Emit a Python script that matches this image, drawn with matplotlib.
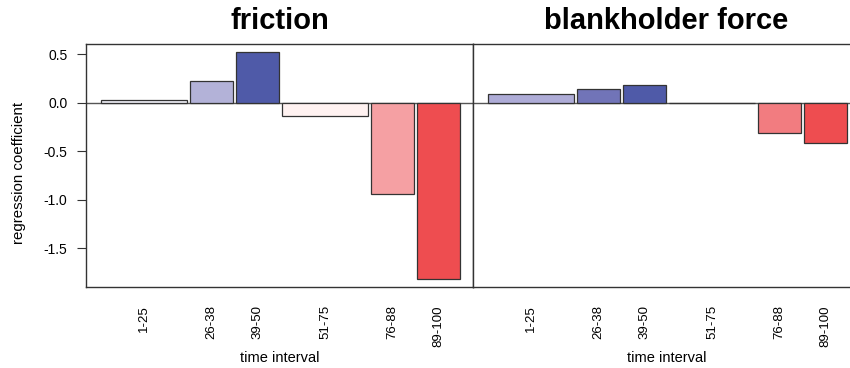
import matplotlib
matplotlib.use("Agg")
import matplotlib.pyplot as plt
import numpy as np

# time intervals and their relative bar widths
intervals = ["1-25", "26-38", "39-50", "51-75", "76-88", "89-100"]
widths = [2, 1, 1, 2, 1, 1]

# regression coefficients per interval
friction = [0.028, 0.22, 0.52, -0.134, -0.94, -1.815]
blankholder = [0.09, 0.14, 0.18, 0.0, -0.315, -0.42]

friction_colors = ["#ededf5", "#b3b2d8", "#4f5aa8", "#fff2f1", "#f5a0a3", "#ee4d50"]
blankholder_colors = ["#aeacd7", "#7174b8", "#4f5aa8", "#ffffff", "#f27c80", "#ee4d50"]

titles = ["friction", "blankholder force"]

plt.rcParams["font.family"] = ["Liberation Sans", "DejaVu Sans"]

gap = 0.06
lefts = np.concatenate([[0], np.cumsum(np.array(widths) + gap)[:-1]])
centers = lefts + np.array(widths) / 2
x_end = lefts[-1] + widths[-1]

fig = plt.figure(figsize=(8.5, 3.68), dpi=100)
ax1 = fig.add_axes([0.1012, 0.2201, 0.4553, 0.6603])
ax2 = fig.add_axes([0.5565, 0.2201, 0.4553, 0.6603])

for ax, vals, cols, title in zip(
    [ax1, ax2], [friction, blankholder], [friction_colors, blankholder_colors], titles
):
    ax.axhline(0, color="#555555", lw=1, zorder=1)
    ax.bar(lefts, vals, width=widths, align="edge", color=cols,
           edgecolor="#333333", linewidth=0.9, zorder=2)
    ax.set_xlim(-0.34, x_end + 0.3)
    ax.set_ylim(-1.9, 0.605)
    ax.set_xticks(centers)
    ax.set_xticklabels(intervals, rotation=90, fontsize=9.5)
    ax.tick_params(axis="x", length=0, pad=13)
    ax.set_xlabel("time interval", fontsize=10.5, labelpad=3)
    ax.set_title(title, fontsize=21, fontweight="bold", pad=11)
    for s in ax.spines.values():
        s.set_color("#333333")
        s.set_linewidth(1)

ax1.set_yticks([0.5, 0.0, -0.5, -1.0, -1.5])
ax1.set_yticklabels(["0.5", "0.0", "-0.5", "-1.0", "-1.5"])
ax1.tick_params(axis="y", length=6.5, pad=7, labelsize=10, color="#333333")
ax1.set_ylabel("regression coefficient", fontsize=10.8)
ax1.yaxis.set_label_coords(-0.155, 0.47)

ax2.tick_params(axis="y", left=False, labelleft=False)

fig.savefig("out.png", dpi=100)
